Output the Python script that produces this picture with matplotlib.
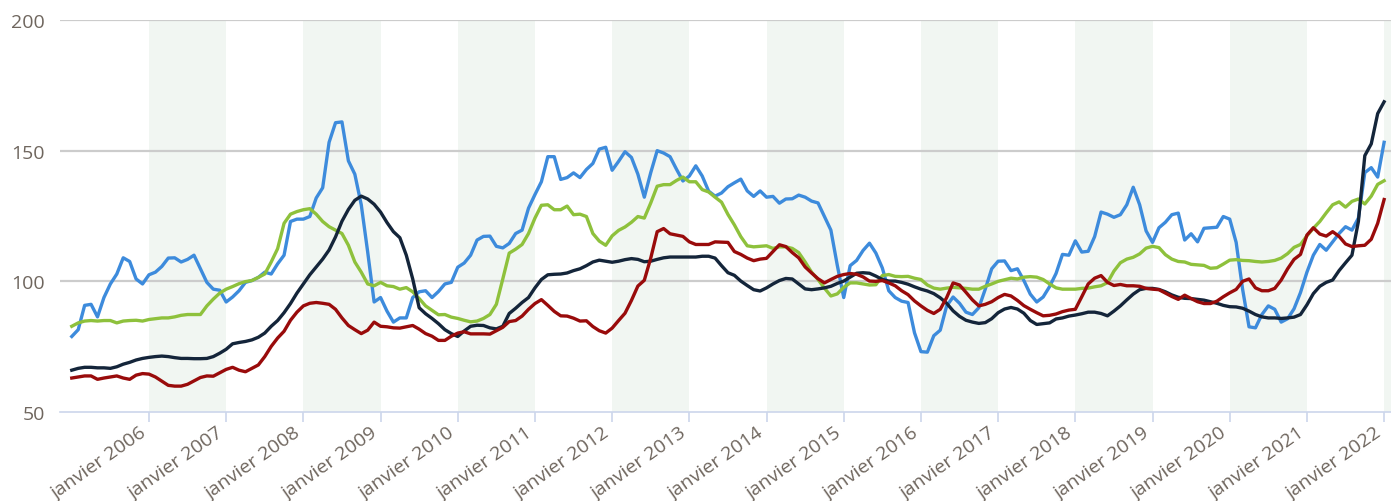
import matplotlib
matplotlib.use("Agg")
import matplotlib.pyplot as plt
import numpy as np

# Monthly values, janvier 2005 .. janvier 2022 (one row per year)
blue = [
    78.9, 81.5, 90.8, 91.2, 86.4, 93.8, 99.0, 102.8, 109.0, 107.6, 100.9, 99.0,
    102.5, 103.5, 105.7, 108.9, 109.0, 107.4, 108.4, 110.0, 104.8, 99.6, 97.0, 96.6,
    92.1, 94.0, 96.4, 99.6, 100.3, 101.5, 103.5, 102.8, 106.7, 110.0, 122.9, 123.8,
    123.8, 124.8, 131.9, 135.8, 153.2, 160.7, 161.0, 146.1, 141.0, 129.3, 111.2, 92.1,
    93.8, 88.6, 84.4, 86.0, 86.0, 93.8, 96.0, 96.4, 93.8, 96.1, 99.0, 99.6,
    105.4, 107.0, 110.0, 115.8, 117.2, 117.3, 113.4, 112.8, 114.5, 118.3, 119.6, 128.0,
    133.2, 138.1, 147.7, 147.7, 139.0, 139.7, 141.5, 139.7, 142.8, 145.1, 150.6, 151.3,
    142.5, 145.9, 149.6, 147.4, 141.0, 132.2, 141.6, 150.0, 149.1, 147.7, 142.9, 138.4,
    140.3, 144.2, 140.3, 134.5, 132.6, 133.8, 136.2, 137.7, 139.1, 134.6, 132.5, 134.6,
    132.2, 132.5, 129.9, 131.5, 131.6, 133.0, 132.2, 130.7, 130.0, 124.8, 119.6, 106.1,
    93.8, 106.0, 108.0, 111.8, 114.6, 110.8, 105.1, 96.4, 93.8, 92.4, 91.9, 80.3,
    73.1, 72.9, 79.2, 81.3, 90.6, 94.0, 91.6, 88.2, 87.3, 89.9, 97.0, 104.8,
    107.7, 107.8, 104.1, 104.8, 100.3, 95.1, 92.1, 94.0, 98.0, 103.0, 110.3, 110.0,
    115.5, 111.2, 111.5, 117.1, 126.5, 125.7, 124.5, 125.5, 129.3, 136.0, 129.3, 119.3,
    114.9, 120.5, 122.6, 125.5, 126.1, 115.8, 118.2, 115.1, 120.3, 120.5, 120.7, 124.8,
    123.8, 114.9, 97.0, 82.6, 82.2, 87.3, 90.6, 89.3, 84.4, 85.7, 89.5, 95.7,
    103.5, 110.0, 114.1, 111.9, 115.1, 118.3, 120.9, 119.6, 124.2, 141.6, 143.5, 139.9,
    153.2,
]

green = [
    82.8, 84.1, 84.8, 85.0, 84.8, 85.0, 85.0, 84.1, 84.8, 85.0, 85.1, 84.8,
    85.4, 85.7, 86.0, 86.0, 86.4, 87.0, 87.3, 87.3, 87.3, 90.6, 93.2, 95.5,
    97.0, 98.0, 99.1, 99.9, 100.3, 101.5, 102.8, 107.4, 112.5, 122.2, 125.7, 126.7,
    127.4, 127.8, 125.7, 122.9, 120.9, 119.6, 118.3, 113.8, 107.4, 103.5, 99.0, 98.3,
    99.6, 98.3, 98.0, 97.0, 97.6, 96.0, 93.4, 90.6, 88.9, 87.2, 87.3, 86.3,
    85.8, 85.1, 84.5, 84.8, 85.8, 87.3, 91.2, 100.9, 110.8, 112.3, 114.1, 118.3,
    124.2, 129.1, 129.3, 127.4, 127.4, 128.8, 125.5, 125.7, 124.8, 118.3, 115.4, 113.8,
    117.4, 119.5, 120.8, 122.6, 124.8, 124.2, 130.0, 136.4, 137.0, 137.0, 138.6, 139.9,
    138.1, 138.1, 135.1, 134.2, 132.2, 130.3, 125.6, 121.6, 117.1, 113.6, 113.2, 113.4,
    113.6, 112.6, 113.2, 113.2, 112.6, 111.0, 107.4, 103.5, 100.7, 97.4, 94.4, 95.2,
    97.7, 99.4, 99.4, 99.0, 98.6, 98.7, 102.2, 102.6, 101.9, 101.8, 101.9, 101.2,
    100.7, 98.6, 97.4, 97.0, 97.4, 97.7, 97.5, 97.3, 97.0, 97.0, 98.1, 99.0,
    100.0, 100.6, 101.2, 100.9, 101.6, 101.8, 101.6, 100.7, 99.0, 97.5, 97.0, 97.0,
    97.0, 97.3, 97.4, 97.9, 98.3, 99.5, 103.9, 107.1, 108.5, 109.2, 110.5, 112.7,
    113.4, 112.9, 110.2, 108.5, 107.6, 107.4, 106.5, 106.3, 106.1, 105.0, 105.2, 106.6,
    108.1, 108.3, 108.0, 107.9, 107.6, 107.4, 107.6, 108.0, 108.9, 110.6, 113.0, 114.1,
    117.4, 120.3, 122.9, 126.2, 129.3, 130.4, 128.4, 130.6, 131.5, 129.6, 132.6, 137.1,
    138.5,
]

navy = [
    66.0, 66.7, 67.1, 67.1, 66.9, 66.9, 66.7, 67.3, 68.3, 69.0, 69.9, 70.5,
    70.9, 71.2, 71.4, 71.2, 70.8, 70.5, 70.5, 70.4, 70.4, 70.5, 71.2, 72.5,
    74.0, 76.1, 76.6, 77.0, 77.6, 78.6, 80.2, 82.8, 85.0, 88.0, 91.5, 95.5,
    99.0, 102.5, 105.5, 108.5, 112.0, 117.0, 123.0, 127.5, 131.0, 132.6, 131.5, 129.5,
    126.5, 122.5, 119.0, 116.7, 110.0, 100.9, 89.9, 87.6, 85.8, 83.8, 81.5, 80.0,
    78.9, 81.0, 82.8, 83.2, 83.1, 82.2, 81.8, 82.8, 87.7, 89.7, 91.9, 93.8,
    97.5, 100.7, 102.5, 102.7, 102.8, 103.2, 104.1, 104.8, 106.0, 107.4, 108.1, 107.7,
    107.3, 107.7, 108.3, 108.7, 108.4, 107.5, 107.7, 108.4, 109.0, 109.3, 109.3, 109.3,
    109.3, 109.3, 109.6, 109.6, 108.9, 106.0, 103.3, 102.3, 100.1, 98.4, 96.8, 96.3,
    97.5, 99.0, 100.3, 101.1, 100.9, 99.0, 97.1, 96.8, 97.1, 97.5, 98.1, 99.2,
    100.1, 101.6, 103.1, 103.3, 103.1, 102.0, 100.7, 100.1, 100.1, 99.6, 98.9, 97.9,
    97.0, 96.3, 95.3, 93.7, 91.6, 88.7, 86.6, 85.1, 84.4, 83.9, 84.2, 85.7,
    88.0, 89.4, 90.0, 89.4, 87.8, 85.0, 83.5, 83.8, 84.1, 85.6, 86.0, 86.7,
    87.1, 87.6, 88.2, 88.2, 87.7, 86.8, 88.6, 90.6, 92.9, 95.1, 96.8, 97.3,
    97.3, 96.9, 96.0, 94.8, 93.9, 93.5, 93.4, 93.1, 92.8, 92.2, 91.6, 90.8,
    90.3, 90.2, 89.7, 88.6, 87.3, 86.4, 86.0, 86.0, 85.8, 86.0, 86.3, 87.3,
    91.0, 95.3, 98.1, 99.6, 100.5, 104.1, 107.1, 110.0, 122.9, 148.1, 152.6, 164.2,
    168.7,
]

red = [
    63.0, 63.4, 63.8, 63.8, 62.5, 63.0, 63.4, 63.8, 63.0, 62.5, 64.1, 64.7,
    64.5, 63.4, 61.8, 60.2, 59.9, 59.9, 60.6, 61.9, 63.2, 63.8, 63.7, 65.0,
    66.3, 67.1, 66.0, 65.4, 66.7, 68.0, 71.2, 75.1, 78.3, 80.9, 85.1, 88.2,
    90.6, 91.6, 91.9, 91.6, 91.2, 89.3, 86.0, 83.1, 81.5, 80.0, 81.3, 84.4,
    82.8, 82.6, 82.2, 82.1, 82.6, 83.1, 81.7, 80.0, 79.0, 77.4, 77.4, 79.0,
    80.2, 80.7, 79.9, 79.9, 79.9, 79.8, 81.1, 82.4, 84.6, 85.0, 86.7, 89.3,
    91.5, 93.0, 90.8, 88.5, 86.8, 86.7, 85.9, 84.8, 84.9, 82.7, 81.1, 80.2,
    82.1, 85.0, 87.8, 92.7, 98.2, 100.4, 108.9, 119.0, 120.2, 118.2, 117.7, 117.2,
    115.1, 114.1, 114.1, 114.1, 115.1, 115.0, 114.9, 111.4, 110.3, 108.9, 107.9, 108.5,
    108.8, 111.4, 114.0, 113.3, 111.0, 109.0, 105.5, 103.2, 101.0, 99.4, 100.7, 101.9,
    102.6, 103.0, 102.7, 101.7, 100.1, 100.0, 100.3, 99.4, 98.3, 96.4, 94.9, 92.5,
    90.6, 88.9, 87.7, 89.3, 93.8, 99.4, 98.6, 95.8, 92.9, 90.6, 91.2, 92.2,
    93.8, 95.0, 94.4, 92.7, 90.7, 89.3, 88.0, 86.8, 87.0, 87.5, 88.4, 89.0,
    89.3, 94.1, 99.0, 101.2, 102.2, 99.6, 98.4, 98.8, 98.3, 98.3, 98.1, 97.3,
    97.0, 96.8, 95.5, 94.2, 93.1, 94.7, 93.4, 92.2, 91.5, 91.5, 92.4, 94.1,
    95.6, 96.9, 100.0, 100.9, 97.5, 96.4, 96.4, 97.3, 100.5, 104.8, 108.4, 110.3,
    117.7, 120.5, 118.1, 117.3, 119.0, 117.2, 114.3, 113.3, 113.6, 113.8, 116.1, 122.2,
    131.3,
]

start_year = 2005
label_years = list(range(2006, 2023))
tick_labels = ["janvier %d" % y for y in label_years]
y_ticks = [50, 100, 150, 200]

FONT = ["Open Sans", "DejaVu Sans"]
TXT = "#6f665e"

fig = plt.figure(figsize=(13.91, 5.02), dpi=100)
ax = fig.add_axes([60 / 1391, 89 / 502, 1 - 60 / 1391, (481 - 89) / 502])

n = len(blue)
x = np.arange(n)

xmin, xmax = -1.83, 205.07
ax.set_xlim(xmin, xmax)
ax.set_ylim(50, 200)

# alternating year bands (even years shaded)
for y in range(2006, 2024, 2):
    a = (y - start_year) * 12
    ax.axvspan(a, a + 12, color="#f1f6f2", zorder=0, lw=0)

for yv in y_ticks[1:]:
    ax.axhline(yv, color="#cccccc", lw=1.6, zorder=1)

lw = 2.4
ax.plot(x, blue, color="#3d8bdc", lw=lw, zorder=3, solid_joinstyle="round")
ax.plot(x, green, color="#8ec13c", lw=lw, zorder=3, solid_joinstyle="round")
ax.plot(x, navy, color="#14253a", lw=lw, zorder=4, solid_joinstyle="round")
ax.plot(x, red, color="#990b0b", lw=lw, zorder=5, solid_joinstyle="round")

for s in ["top", "right", "left"]:
    ax.spines[s].set_visible(False)
ax.spines["bottom"].set_color("#ccd6eb")
ax.spines["bottom"].set_linewidth(1.2)

xt = [(y - start_year) * 12 for y in label_years]
ax.set_xticks(xt)
ax.set_xticklabels(tick_labels, rotation=35, ha="right", va="top",
                   fontfamily=FONT, fontsize=14, color=TXT)
ax.tick_params(axis="x", length=7, width=1.2, color="#ccd6eb", pad=1)

ax.set_yticks(y_ticks)
ax.set_yticklabels([str(v) for v in y_ticks], fontfamily=FONT, fontsize=14, color=TXT)
ax.tick_params(axis="y", length=0, pad=11)

fig.savefig("out.png", dpi=100, facecolor="white")
